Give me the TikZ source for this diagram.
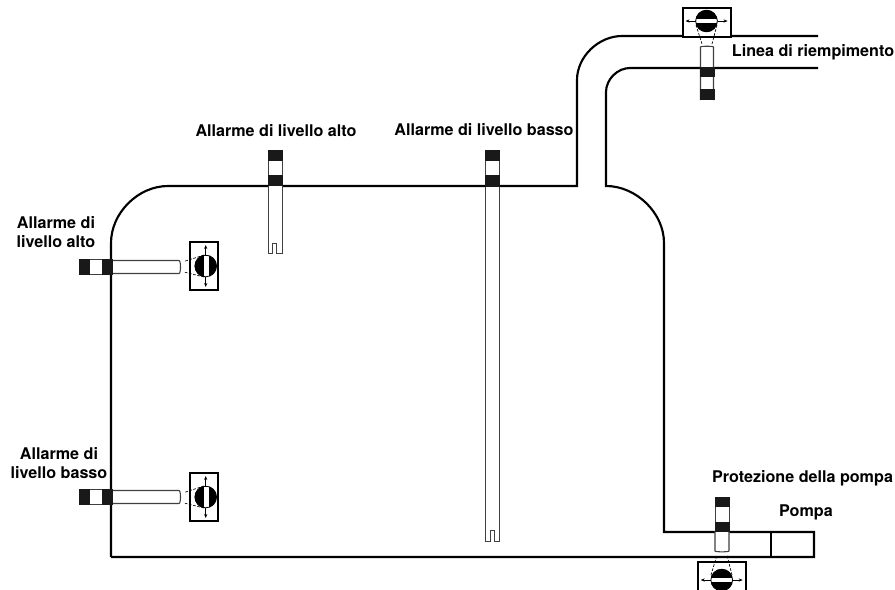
\documentclass[tikz,border=0pt]{standalone}
\usepackage{fontspec}
\setmainfont{TeX Gyre Heros}
\usetikzlibrary{arrows.meta}
\tikzset{
  pipeline/.style={line width=1.6pt,black,line join=miter},
  lbl/.style={font=\bfseries\fontsize{12.1}{14.6}\selectfont,inner sep=0pt,align=center,text=black},
  band/.style={fill=black!90,draw=none},
  tube/.style={draw=black!75,line width=0.8pt,fill=white},
  boxs/.style={draw=black,line width=1pt,fill=white},
  dial/.style={fill=black,draw=none},
  rim/.style={draw=black,line width=0.6pt},
  sight/.style={draw=black,line width=0.5pt,dash pattern=on 2pt off 1.2pt},
  tick/.style={draw=black,line width=0.45pt,-{Stealth[length=3pt,width=2.4pt]}},
}
\newcommand{\bandsV}[6]{%
  \fill[white] (#1,#3) rectangle (#2,#6);
  \draw[black!75,line width=0.7pt] (#1,#3) -- (#1,#6) (#2,#3) -- (#2,#6);
  \fill[band] (#1-0.5,#3) rectangle (#2+0.5,#4);
  \fill[band] (#1-0.5,#5) rectangle (#2+0.5,#6);
}
\newcommand{\bandsH}[1]{%
  \draw[tube] (112,#1-6.5) -- (179,#1-6.5) to[out=0,in=0,looseness=0.4] (179,#1+6.5) -- (112,#1+6.5);
  \draw[black!75,line width=0.7pt] (90,#1-7.5) -- (102,#1-7.5) (90,#1+7.5) -- (102,#1+7.5);
  \fill[band] (79,#1-8) rectangle (90,#1+8);
  \fill[band] (102,#1-8) rectangle (112.5,#1+8);
}
\newcommand{\dialV}[1]{%
  \draw[boxs] (190,#1-24) rectangle (218,#1+24);
  \draw[sight] (204,#1-11) -- (184,#1-4.5);
  \draw[sight] (204,#1+11) -- (184,#1+6);
  \fill[dial] (205.7,#1) circle[radius=11];
  \fill[white] (204,#1-10.5) rectangle (208.5,#1+10.5);
  \draw[rim] (205.7,#1) circle[radius=10.8];
  \draw[tick] (205.7,#1-11) -- (205.7,#1-21);
  \draw[tick] (205.7,#1+11) -- (205.7,#1+21);
}
\newcommand{\dialH}[2]{%
  \fill[dial] (#1,#2) circle[radius=11];
  \fill[white] (#1-10.5,#2-2) rectangle (#1+10.5,#2+2);
  \draw[rim] (#1,#2) circle[radius=10.8];
  \draw[tick] (#1-11,#2) -- (#1-21,#2);
  \draw[tick] (#1+11,#2) -- (#1+21,#2);
}
\begin{document}
\begin{tikzpicture}[x=0.75pt,y=-0.75pt]
\useasboundingbox (0,0) rectangle (895,589);
\draw[pipeline] (111,557) -- (111,243) to[out=90,in=180,looseness=0.95] (168,186) -- (577,186) -- (577,80)
  to[out=90,in=180,looseness=0.95] (622,36) -- (818,36);
\draw[pipeline] (818,68) -- (630,68) to[out=180,in=90,looseness=0.95] (606,92) -- (606,186)
  to[out=0,in=90,looseness=0.95] (664,243) -- (664,532) -- (814,532) -- (814,557) -- (111,557);
\draw[pipeline] (771,532) -- (771,557);
\draw[black!75,line width=0.7pt,fill=white] (268,186) -- (268,253) -- (272.5,253) -- (272.5,243) -- (276.5,243) -- (276.5,253) -- (282,253) -- (282,186);
\bandsV{268}{282}{150}{161}{175}{186}
\draw[black!75,line width=0.7pt,fill=white] (485,186) -- (485,541) -- (490,541) -- (490,530) -- (494.5,530) -- (494.5,541) -- (499,541) -- (499,186);
\bandsV{485}{499}{150}{161}{175}{187}
\bandsH{267}
\dialV{266}
\bandsH{497}
\dialV{497}
\draw[boxs] (683,8) rectangle (731,37);
\draw[sight] (696,25) -- (702,44);
\draw[sight] (717,25) -- (712,44);
\dialH{706.5}{21}
\draw[tube] (700.5,100) -- (700.5,47) to[out=90,in=90,looseness=0.2] (713.5,47) -- (713.5,100);
\fill[band] (699.5,67) rectangle (714.5,77);
\fill[band] (699.5,89) rectangle (714.5,100);
\draw[tube] (715,531) -- (715,551) to[out=-90,in=-90,looseness=0.2] (729,551) -- (729,531);
\bandsV{715}{729}{497}{507}{522}{532}
\draw[boxs] (698,562) rectangle (746,592);
\draw[sight] (711,575) -- (717,555);
\draw[sight] (732,575) -- (727,555);
\dialH{721.7}{580}
\node[lbl] (a) at (276,131) {Allarme di livello alto};
\node[lbl] (b) at (484,130) {Allarme di livello basso};
\node[lbl] (c) at (813,52) {Linea di riempimento};
\node[lbl] (d) at (56,232) {Allarme di\\livello alto};
\node[lbl] (e) at (59,463) {Allarme di\\livello basso};
\node[lbl] (f) at (802.5,478) {Protezione della pompa};
\node[lbl] (g) at (806,512) {Pompa};
\end{tikzpicture}
\end{document}
